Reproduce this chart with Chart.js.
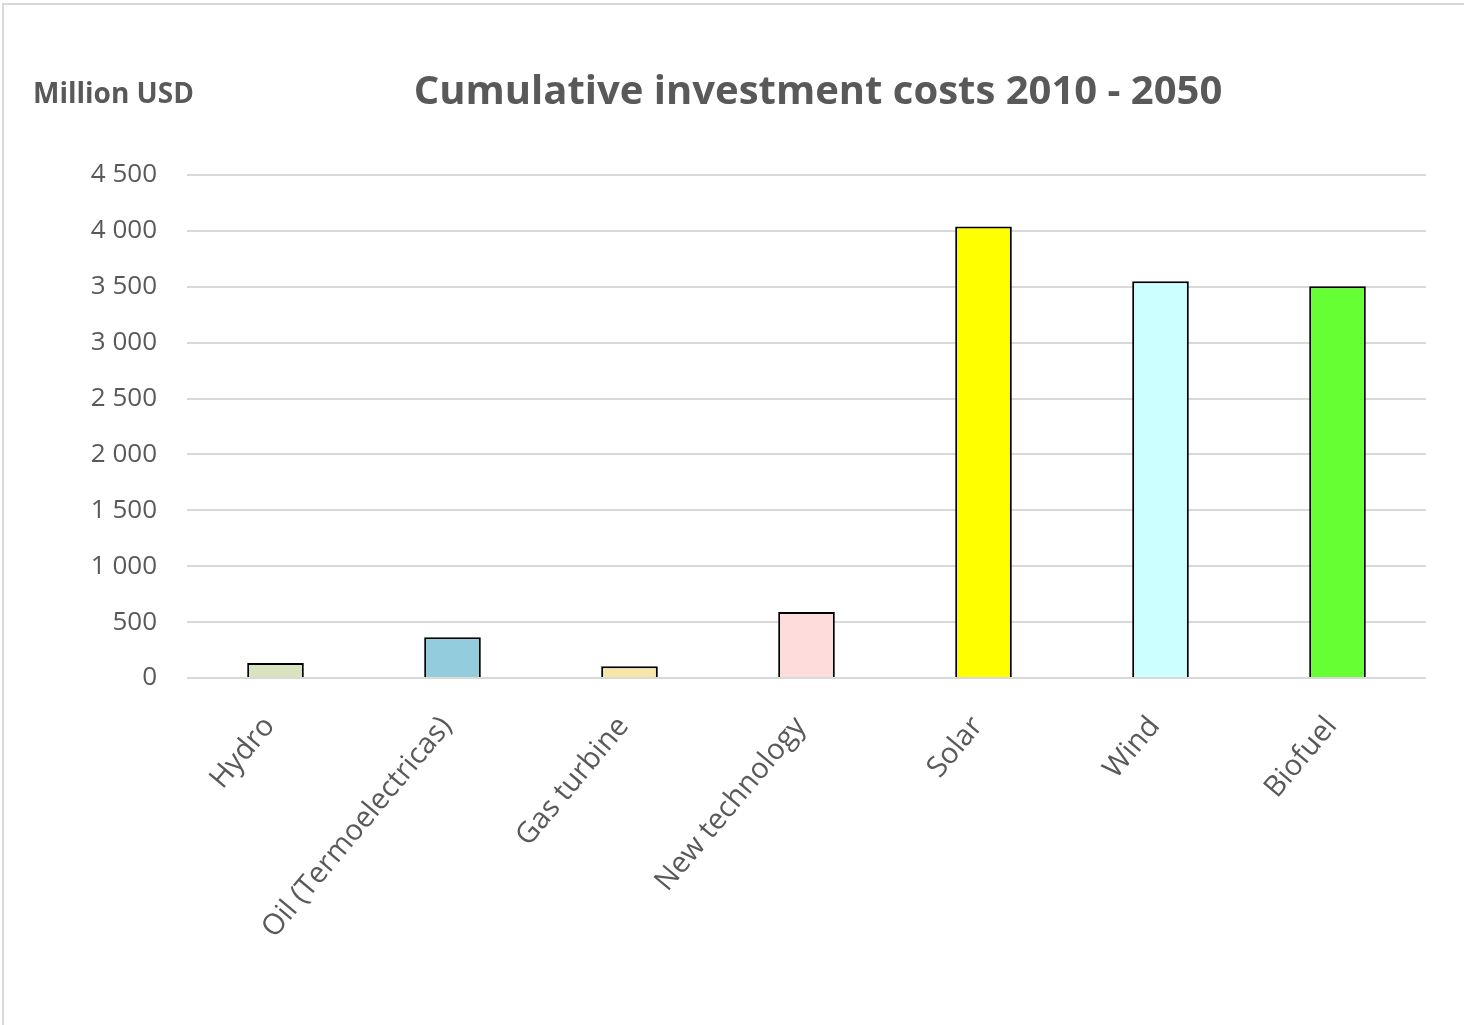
<!DOCTYPE html>
<html>
<head>
<meta charset="utf-8">
<script src="https://cdn.jsdelivr.net/npm/chart.js@4"></script>
<style>
  html, body { margin: 0; padding: 0; background: #fff; }
  #wrap { position: relative; width: 1464px; height: 1025px; }
</style>
</head>
<body>
<div id="wrap"><canvas id="invest-chart" width="1464" height="1025"></canvas></div>
<script>
// Chart data
const categories = ['Hydro', 'Oil (Termoelectricas)', 'Gas turbine', 'New technology', 'Solar', 'Wind', 'Biofuel'];
const investment = [135, 365, 105, 590, 4040, 3550, 3505];
const barColors = ['#D7E4BD', '#93CDDD', '#F6E6A8', '#FFDCDC', '#FFFF00', '#CCFFFF', '#66FF33'];
const yTicks = [0, 500, 1000, 1500, 2000, 2500, 3000, 3500, 4000, 4500];

const titleText = 'Cumulative investment costs 2010 - 2050';
const unitText = 'Million USD';
const textColor = '#595959';

// Format 4500 -> "4 500"
function formatNumber(v) {
    return String(v).replace(/\B(?=(\d{3})+(?!\d))/g, ' ');
}

// Frame and header texts
const decorPlugin = {
    id: 'decor',
    beforeDraw(chart) {
        const ctx = chart.ctx;
        ctx.save();
        ctx.fillStyle = '#fff';
        ctx.fillRect(0, 0, chart.width, chart.height);
        ctx.strokeStyle = '#d9d9d9';
        ctx.lineWidth = 2;
        ctx.beginPath();
        ctx.moveTo(2, 4);
        ctx.lineTo(chart.width, 4);
        ctx.moveTo(3, 4);
        ctx.lineTo(3, chart.height);
        ctx.stroke();
        ctx.restore();
    },
    afterDraw(chart) {
        const ctx = chart.ctx;
        ctx.save();
        ctx.fillStyle = textColor;
        ctx.textBaseline = 'middle';
        ctx.textAlign = 'left';
        ctx.font = 'bold 28px "Open Sans"';
        ctx.fillText(unitText, 33, 95);
        ctx.textAlign = 'center';
        ctx.font = 'bold 40px "Open Sans"';
        ctx.fillText(titleText, 818, 93);
        ctx.restore();
    }
};

const chart = new Chart(document.getElementById('invest-chart'), {
    type: 'bar',
    data: {
        labels: categories,
        datasets: [{
            data: investment,
            backgroundColor: barColors,
            borderColor: '#000',
            borderWidth: 2,
            barPercentage: 0.32,
            categoryPercentage: 1
        }]
    },
    options: {
        responsive: false,
        animation: false,
        layout: { padding: { top: 175, right: 38, left: 0, bottom: 0 } },
        plugins: {
            legend: { display: false },
            title: { display: false },
            tooltip: { enabled: false }
        },
        scales: {
            x: {
                grid: { display: false },
                border: { display: false },
                ticks: {
                    color: textColor,
                    font: { family: '"Open Sans"', size: 29 },
                    minRotation: 50,
                    maxRotation: 50,
                    padding: 24,
                    labelOffset: -6
                },
                afterFit(scale) { scale.height = 347; }
            },
            y: {
                min: 0,
                max: 4500,
                afterBuildTicks(scale) {
                    scale.ticks = yTicks.map(v => ({ value: v }));
                },
                grid: { color: '#d9d9d9', lineWidth: 2, drawTicks: false },
                border: { display: false },
                ticks: {
                    color: textColor,
                    font: { family: '"Open Sans"', size: 26 },
                    padding: 30,
                    callback: v => formatNumber(v)
                },
                afterFit(scale) { scale.width = 187; }
            }
        }
    },
    plugins: [decorPlugin]
});
</script>
</body>
</html>
